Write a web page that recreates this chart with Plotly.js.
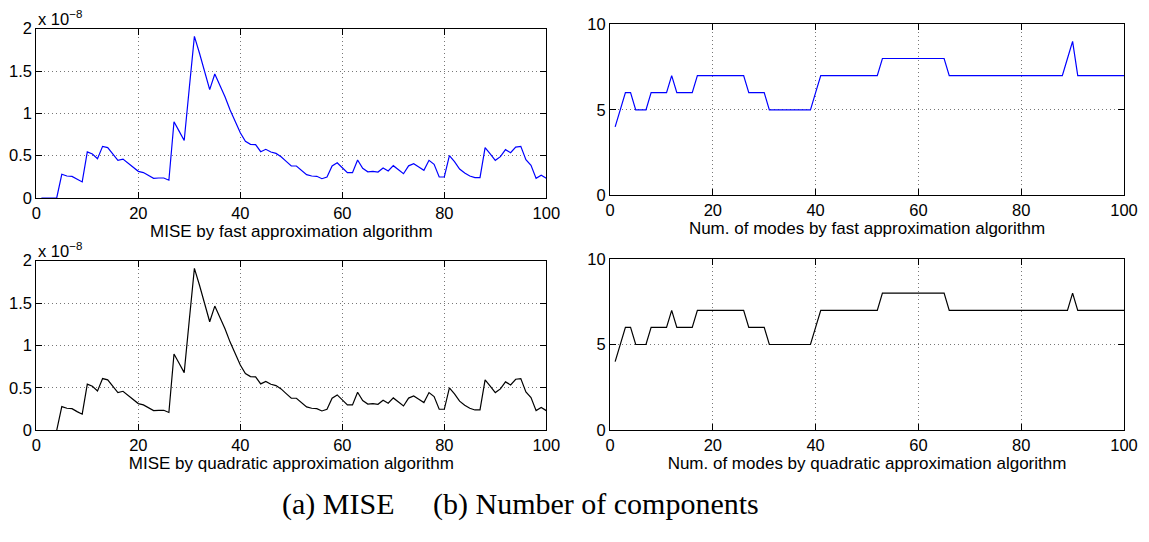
<!DOCTYPE html>
<html>
<head>
<meta charset="utf-8">
<script src="https://cdn.plot.ly/plotly-3.0.1.min.js"></script>
<style>
  html, body { margin: 0; padding: 0; background: #fff; }
  #fig { width: 1149px; height: 542px; }
</style>
</head>
<body>
<div id="fig"></div>
<script>
// Iteration index (number of samples processed)
const iterations = [
  1,2,3,4,5,6,7,8,9,10,
  11,12,13,14,15,16,17,18,19,20,
  21,22,23,24,25,26,27,28,29,30,
  31,32,33,34,35,36,37,38,39,40,
  41,42,43,44,45,46,47,48,49,50,
  51,52,53,54,55,56,57,58,59,60,
  61,62,63,64,65,66,67,68,69,70,
  71,72,73,74,75,76,77,78,79,80,
  81,82,83,84,85,86,87,88,89,90,
  91,92,93,94,95,96,97,98,99,100
];

// MISE, in units of 1e-8, fast approximation algorithm
const miseFast = [
  0,0,0,0,0.28,0.26,0.255,0.22,0.19,0.545,
  0.52,0.465,0.61,0.595,0.52,0.445,0.46,0.41,0.37,0.315,
  0.30,0.265,0.232,0.236,0.236,0.21,0.90,0.79,0.68,1.30,
  1.91,1.71,1.49,1.28,1.465,1.335,1.197,1.04,0.90,0.77,
  0.67,0.634,0.63,0.547,0.575,0.543,0.527,0.488,0.433,0.378,
  0.378,0.33,0.276,0.26,0.256,0.228,0.248,0.378,0.417,0.358,
  0.30,0.30,0.449,0.35,0.31,0.315,0.307,0.354,0.319,0.382,
  0.331,0.287,0.38,0.405,0.366,0.327,0.445,0.398,0.248,0.248,
  0.50,0.43,0.343,0.295,0.26,0.24,0.24,0.594,0.52,0.445,
  0.488,0.571,0.535,0.602,0.61,0.453,0.386,0.232,0.268,0.232
];

// MISE, in units of 1e-8, quadratic approximation algorithm (undefined for the first samples)
const miseQuad = [
  null,null,null,0,0.28,0.26,0.255,0.22,0.19,0.545,
  0.52,0.465,0.61,0.595,0.52,0.445,0.46,0.41,0.37,0.315,
  0.30,0.265,0.232,0.236,0.236,0.21,0.90,0.79,0.68,1.30,
  1.91,1.71,1.49,1.28,1.465,1.335,1.197,1.04,0.90,0.77,
  0.67,0.634,0.63,0.547,0.575,0.543,0.527,0.488,0.433,0.378,
  0.378,0.33,0.276,0.26,0.256,0.228,0.248,0.378,0.417,0.358,
  0.30,0.30,0.449,0.35,0.31,0.315,0.307,0.354,0.319,0.382,
  0.331,0.287,0.38,0.405,0.366,0.327,0.445,0.398,0.248,0.248,
  0.50,0.43,0.343,0.295,0.26,0.24,0.24,0.594,0.52,0.445,
  0.488,0.571,0.535,0.602,0.61,0.453,0.386,0.232,0.268,0.232
];

// Number of modes, fast approximation algorithm
const modesFast = [
  4,5,6,6,5,5,5,6,6,6,
  6,7,6,6,6,6,7,7,7,7,
  7,7,7,7,7,7,6,6,6,6,
  5,5,5,5,5,5,5,5,5,6,
  7,7,7,7,7,7,7,7,7,7,
  7,7,8,8,8,8,8,8,8,8,
  8,8,8,8,8,7,7,7,7,7,
  7,7,7,7,7,7,7,7,7,7,
  7,7,7,7,7,7,7,7,8,9,
  7,7,7,7,7,7,7,7,7,7
];

// Number of modes, quadratic approximation algorithm
const modesQuad = [
  4,5,6,6,5,5,5,6,6,6,
  6,7,6,6,6,6,7,7,7,7,
  7,7,7,7,7,7,6,6,6,6,
  5,5,5,5,5,5,5,5,5,6,
  7,7,7,7,7,7,7,7,7,7,
  7,7,8,8,8,8,8,8,8,8,
  8,8,8,8,8,7,7,7,7,7,
  7,7,7,7,7,7,7,7,7,7,
  7,7,7,7,7,7,7,7,7,8,
  7,7,7,7,7,7,7,7,7,7
];

// Tick positions
const xTicks = [0, 20, 40, 60, 80, 100];
const miseTicks = [0, 0.5, 1, 1.5, 2];
const modeTicks = [0, 5, 10];

// Text
const titleMiseFast = 'MISE by fast approximation algorithm';
const titleMiseQuad = 'MISE by quadratic approximation algorithm';
const titleModesFast = 'Num. of modes by fast approximation algorithm';
const titleModesQuad = 'Num. of modes by quadratic approximation algorithm';
const exponentLabel = 'x 10<sup>\u22128</sup>';
const captionA = '(a) MISE';
const captionB = '(b) Number of components';

const W = 1149, H = 542;
const px = (a, b) => [a / W, b / W];
const py = (top, bottom) => [(H - bottom) / H, (H - top) / H];

const sans = 'Liberation Sans, Arial, Helvetica, sans-serif';
const serif = 'Liberation Serif, Times New Roman, serif';
const tickFont = { family: sans, size: 16.5, color: '#000' };
const titleFont = { family: sans, size: 17, color: '#000' };
const captionFont = { family: serif, size: 30, color: '#000' };

function xAxis(domain, anchor, title) {
  return {
    domain: domain, anchor: anchor, range: [0, 100],
    tickmode: 'array', tickvals: xTicks,
    ticks: 'inside', ticklen: 6, tickcolor: '#000',
    showline: true, linecolor: '#000', linewidth: 1, mirror: 'ticks',
    showgrid: true, gridcolor: '#777', griddash: '1px,3px', gridwidth: 1,
    zeroline: false, tickfont: tickFont,
    title: { text: title, font: titleFont, standoff: 0 }
  };
}
function yAxis(domain, anchor, range, ticks) {
  return {
    domain: domain, anchor: anchor, range: range,
    tickmode: 'array', tickvals: ticks,
    ticks: 'inside', ticklen: 6, tickcolor: '#000',
    showline: true, linecolor: '#000', linewidth: 1, mirror: 'ticks',
    showgrid: true, gridcolor: '#777', griddash: '1px,3px', gridwidth: 1,
    zeroline: false, tickfont: tickFont
  };
}

const line = (color) => ({ color: color, width: 1.2 });

const traces = [
  { x: iterations, y: miseFast, xaxis: 'x', yaxis: 'y', mode: 'lines', line: line('#0000ff'), connectgaps: false },
  { x: iterations, y: modesFast, xaxis: 'x2', yaxis: 'y2', mode: 'lines', line: line('#0000ff') },
  { x: iterations, y: miseQuad, xaxis: 'x3', yaxis: 'y3', mode: 'lines', line: line('#000000'), connectgaps: false },
  { x: iterations, y: modesQuad, xaxis: 'x4', yaxis: 'y4', mode: 'lines', line: line('#000000') }
];

const layout = {
  width: W, height: H,
  margin: { l: 0, r: 0, t: 0, b: 0 },
  paper_bgcolor: '#fff', plot_bgcolor: '#fff',
  showlegend: false,
  font: { family: sans, color: '#000' },
  xaxis: xAxis(px(36.3, 546.3), 'y', titleMiseFast),
  yaxis: yAxis(py(28.7, 198), 'x', [0, 2], miseTicks),
  xaxis2: xAxis(px(610, 1124), 'y2', titleModesFast),
  yaxis2: yAxis(py(24.3, 195.3), 'x2', [0, 10], modeTicks),
  xaxis3: xAxis(px(36.3, 546.3), 'y3', titleMiseQuad),
  yaxis3: yAxis(py(260.7, 430.3), 'x3', [0, 2], miseTicks),
  xaxis4: xAxis(px(610, 1124), 'y4', titleModesQuad),
  yaxis4: yAxis(py(259, 430), 'x4', [0, 10], modeTicks),
  annotations: [
    { text: exponentLabel, xref: 'paper', yref: 'paper', x: 36 / W, y: (H - 18) / H,
      xanchor: 'left', yanchor: 'middle', showarrow: false, font: tickFont },
    { text: exponentLabel, xref: 'paper', yref: 'paper', x: 36 / W, y: (H - 250) / H,
      xanchor: 'left', yanchor: 'middle', showarrow: false, font: tickFont },
    { text: captionA, xref: 'paper', yref: 'paper', x: 338 / W, y: (H - 504) / H,
      xanchor: 'center', yanchor: 'middle', showarrow: false, font: captionFont },
    { text: captionB, xref: 'paper', yref: 'paper', x: 596 / W, y: (H - 504) / H,
      xanchor: 'center', yanchor: 'middle', showarrow: false, font: captionFont }
  ]
};

Plotly.newPlot('fig', traces, layout, { staticPlot: true, displayModeBar: false });
</script>
</body>
</html>
